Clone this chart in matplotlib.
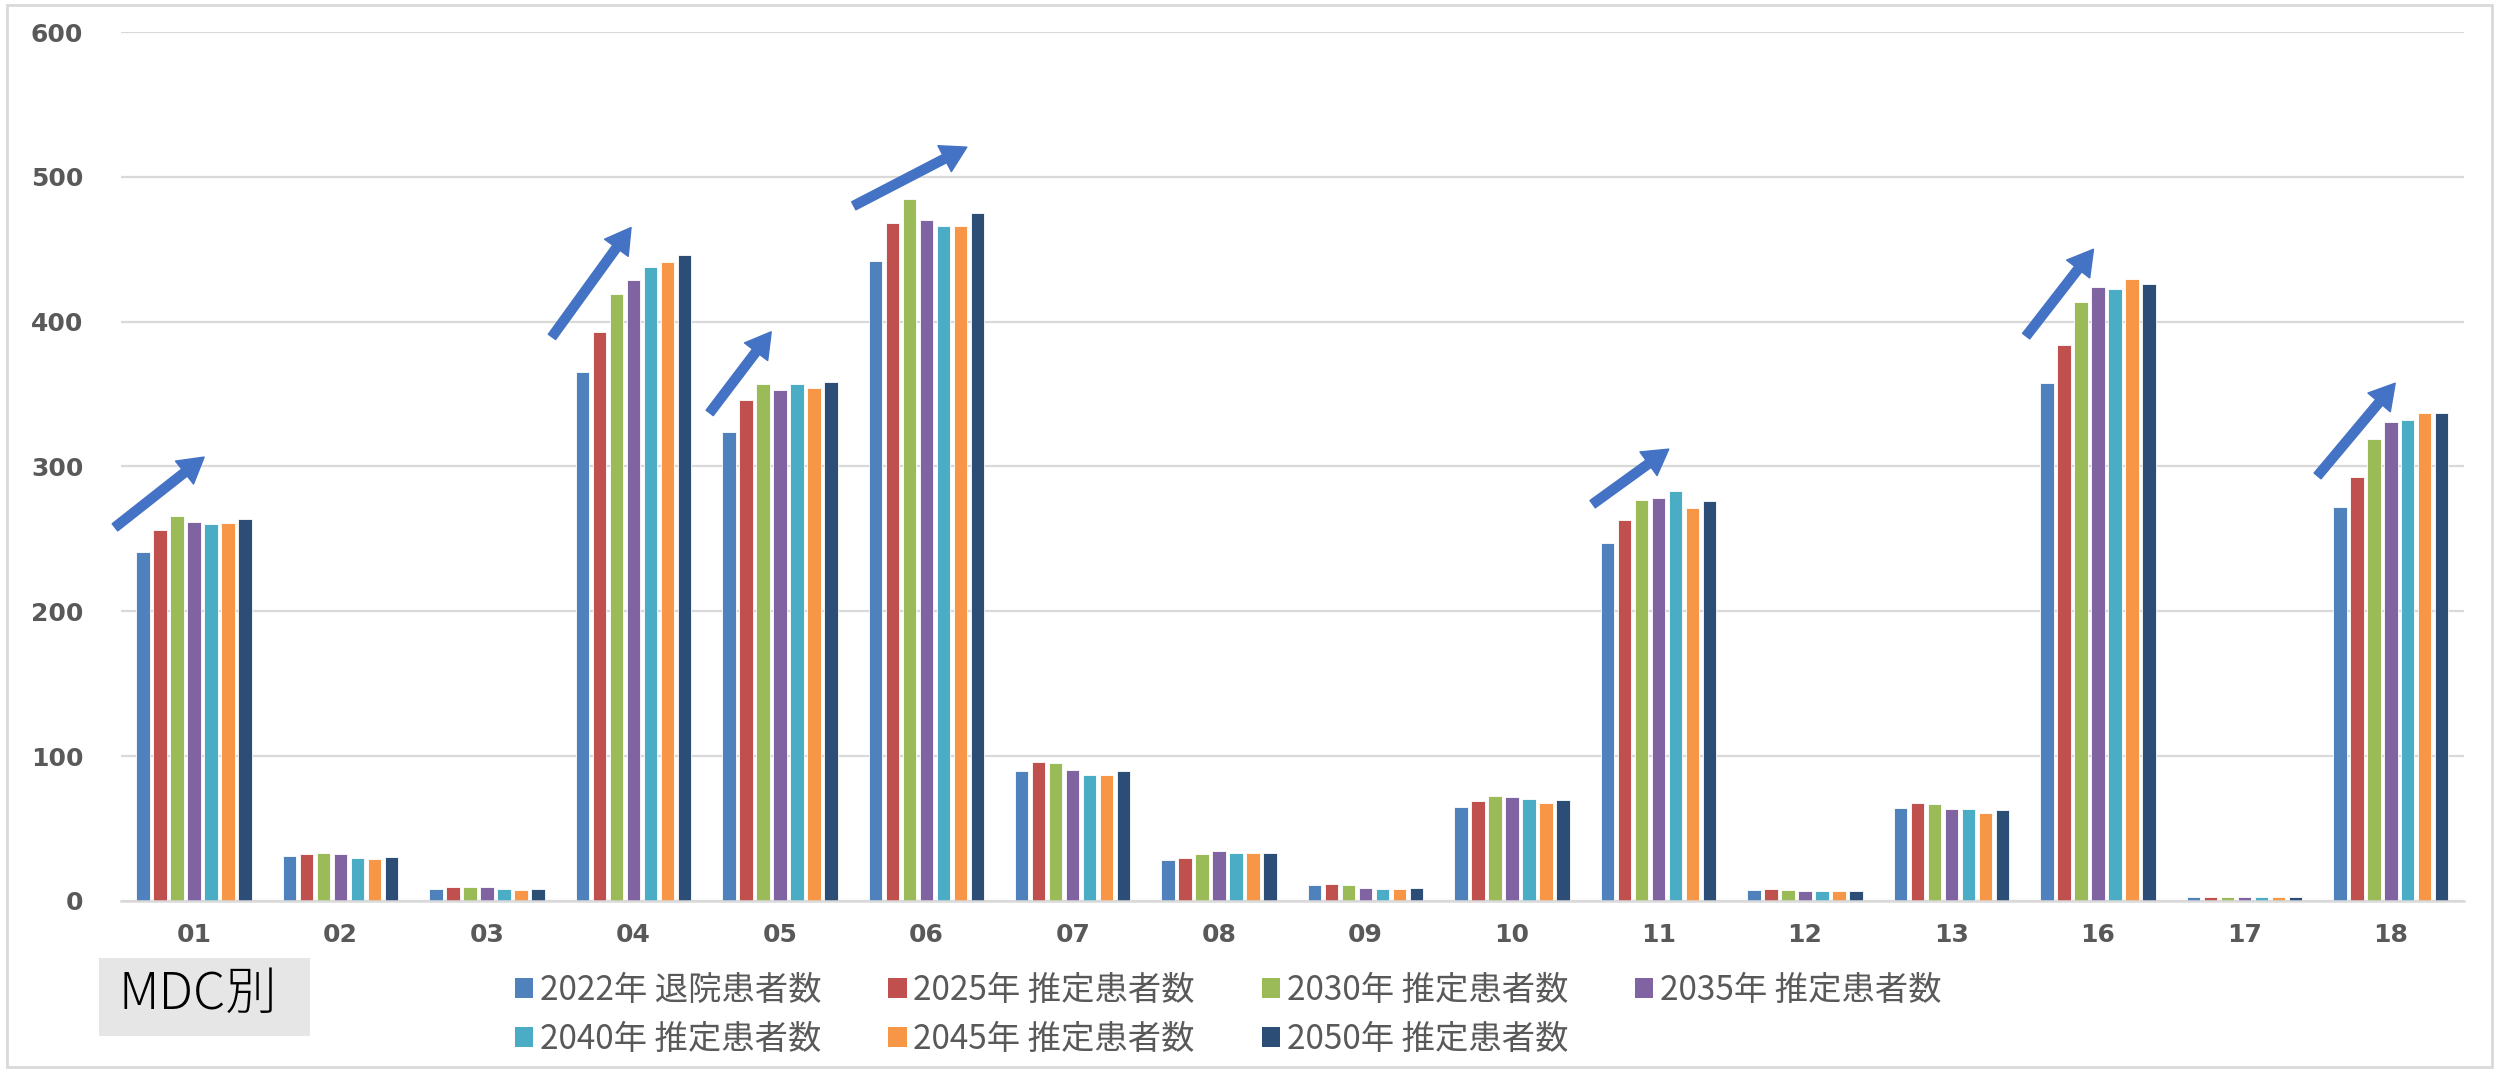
import matplotlib
matplotlib.use("Agg")
import matplotlib.pyplot as plt
from matplotlib.patches import Patch, Rectangle, FancyArrowPatch
import numpy as np

plt.rcParams['font.family'] = ['Noto Sans CJK JP', 'DejaVu Sans']

categories = ["01", "02", "03", "04", "05", "06", "07", "08", "09", "10",
              "11", "12", "13", "16", "17", "18"]

s2022 = [241, 31, 8.6, 365, 324, 442, 90, 28, 10.8, 64.6, 247, 7.7, 64, 357.5, 2.5, 272]
s2025 = [256, 32.5, 9.6, 393, 346, 468, 96, 30, 11.5, 68.7, 263, 8.5, 67.5, 384, 2.5, 293]
s2030 = [266, 33, 9.4, 419, 357, 485, 95, 32.5, 10.8, 72.2, 277, 7.7, 66.8, 413.5, 3, 319]
s2035 = [262, 32.5, 9.4, 429, 353, 470, 90.5, 34.5, 9.2, 71.5, 278.5, 7, 63.3, 424, 3, 331]
s2040 = [260, 30, 8.6, 438, 357, 466, 87, 33.3, 8.6, 70.1, 283, 7, 63.3, 422.5, 2.5, 332]
s2045 = [261, 29, 7.9, 441, 354, 466, 87, 33.3, 8.6, 68, 271.5, 7, 60.6, 429.5, 2.5, 337]
s2050 = [264, 30.5, 8.6, 446, 358, 475, 90, 33.3, 9.2, 69.4, 276, 7, 62.6, 426, 2.5, 337]

series_names = ["2022年 退院患者数", "2025年 推定患者数", "2030年 推定患者数",
                "2035年 推定患者数", "2040年 推定患者数", "2045年 推定患者数",
                "2050年 推定患者数"]
series_values = [s2022, s2025, s2030, s2035, s2040, s2045, s2050]
colors = ["#4F81BD", "#C0504D", "#9BBB59", "#8064A2", "#4BACC6", "#F79646", "#2C4D75"]

yticks = [0, 100, 200, 300, 400, 500, 600]

# trend arrows: (category, tail dx, tail y, tip dx, tip y)
arrow_cats = ["01", "04", "05", "06", "11", "16", "18"]
arrow_tail_dx = [-0.54, -0.556, -0.479, -0.495, -0.45, -0.49, -0.50]
arrow_tail_y = [258, 389.5, 337, 480, 274, 390, 293.5]
arrow_tip_dx = [0.069, -0.016, -0.059, 0.277, 0.07, -0.03, 0.03]
arrow_tip_y = [306.5, 465, 393, 520.5, 312, 450, 357.5]

W, H, DPI = 2496, 1069, 100
fig = plt.figure(figsize=(W / DPI, H / DPI), dpi=DPI)
fig.patch.set_facecolor("white")

ax_left, ax_right, ax_top, ax_bot = 120.8, 2464, 32, 901
ax = fig.add_axes([ax_left / W, 1 - ax_bot / H, (ax_right - ax_left) / W, (ax_bot - ax_top) / H])

x = np.arange(len(categories))
slot = 0.116
bw = 0.092
for j, (vals, c) in enumerate(zip(series_values, colors)):
    ax.bar(x + (j - 3) * slot, vals, width=bw, color=c, edgecolor="white",
           linewidth=0.6, zorder=3)

ax.set_xlim(-0.5, len(categories) - 0.5)
ax.set_ylim(0, 600)
ax.set_yticks(yticks)
ax.set_yticklabels([str(t) for t in yticks])
ax.set_xticks(x)
ax.set_xticklabels(categories)
ax.yaxis.grid(True, color="#D9D9D9", linewidth=1.6, zorder=0)
ax.set_axisbelow(True)
for sp in ["top", "right", "left"]:
    ax.spines[sp].set_visible(False)
ax.spines["bottom"].set_color("#D9D9D9")
ax.spines["bottom"].set_linewidth(1.8)
ax.spines["bottom"].set_zorder(4)
ax.tick_params(axis="both", length=0)
ax.tick_params(axis="y", pad=27)
ax.tick_params(axis="x", pad=16)
for lab in ax.get_yticklabels() + ax.get_xticklabels():
    lab.set_fontfamily("DejaVu Sans")
    lab.set_fontweight("bold")
    lab.set_fontsize(18)
    lab.set_color("#595959")

# arrows
for cat, tdx, ty, hdx, hy in zip(arrow_cats, arrow_tail_dx, arrow_tail_y, arrow_tip_dx, arrow_tip_y):
    i = categories.index(cat)
    arr = FancyArrowPatch((i + tdx, ty), (i + hdx, hy),
                          arrowstyle="simple,head_length=18,head_width=21,tail_width=6.5",
                          mutation_scale=1, shrinkA=0, shrinkB=0,
                          color="#4472C4", zorder=6, clip_on=False)
    ax.add_patch(arr)

# legend (row-major order in a 4-column, column-filled legend)
handles = [Patch(facecolor=c, edgecolor="none") for c in colors]
order = [0, 4, 1, 5, 2, 6, 3]
leg = fig.legend([handles[k] for k in order], [series_names[k] for k in order],
                 ncol=4, loc="upper left",
                 bbox_to_anchor=(515 / W, 1 - 973 / H), frameon=False,
                 fontsize=24, handlelength=0.55, handleheight=0.55,
                 handletextpad=0.2, columnspacing=2.0, labelspacing=0.42,
                 borderpad=0, borderaxespad=0)
for t in leg.get_texts():
    t.set_color("#595959")

# MDC box
fig.patches.append(Rectangle((99 / W, 1 - 1036 / H), (310 - 99) / W, (1036 - 958) / H,
                             transform=fig.transFigure, facecolor="#E6E6E6",
                             edgecolor="none", zorder=1))
fig.text(119 / W, 1 - 994 / H, "MDC別", fontsize=37, color="black",
         va="center", ha="left", family=["Noto Sans CJK JP", "DejaVu Sans"],
         fontweight="light", zorder=2)

# outer frame
fig.patches.append(Rectangle((7 / W, 2 / H), (2492 - 7) / W, (1064 - 2) / H,
                             transform=fig.transFigure, facecolor="none",
                             edgecolor="#D9D9D9", linewidth=2.0, zorder=0))

fig.savefig("out.png", dpi=DPI, facecolor="white")
